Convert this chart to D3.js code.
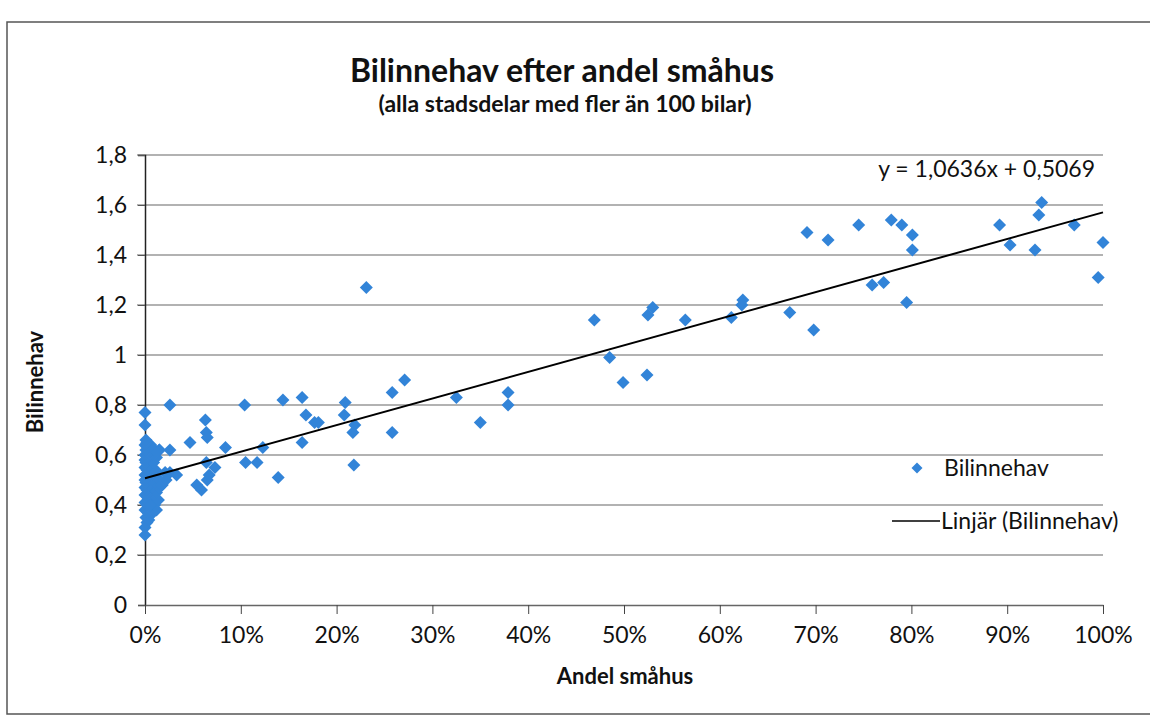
<!DOCTYPE html>
<html><head><meta charset="utf-8">
<script src="https://cdn.jsdelivr.net/npm/d3@7"></script>
<style>body{margin:0;background:#fff}svg{display:block}text{font-family:Lato,"Open Sans",sans-serif;fill:#111}</style>
</head><body><svg id="c" width="1150" height="720"></svg>
<script>
// Andel småhus (%) and Bilinnehav
const xPct = [0,0,0.2,0.1,0.4,0.6,0.3,0,0.8,1.2,0.5,0.2,1.0,0,0.7,1.4,0.3,0.9,0,0.5,1.2,0.2,0.8,0,1.5,0.4,0.1,1.0,0.6,0,0.3,1.3,0.8,0,0.5,0.2,1.1,0,0.7,0.4,0.1,0.9,0,0.6,0.3,1.2,0,0.8,0.5,0.1,1.0,0.3,0,0.6,0.2,0.1,0,0,0.5,1.8,2.2,1.5,
  2.6,1.5,2.6,2.1,2.6,3.3,4.7,5.4,5.9,6.3,6.4,6.5,6.4,6.5,6.7,7.3,8.4,10.4,10.5,11.7,12.3,13.9,14.4,16.4,16.8,17.7,18.1,16.4,20.9,20.8,21.9,21.7,21.8,23.1,25.8,27.1,25.8,32.5,35.0,37.9,37.9,
  46.9,48.5,49.9,52.4,52.5,53.0,56.4,61.2,62.3,62.4,67.3,69.1,71.3,74.5,77.9,79.0,80.1,80.1,75.9,77.1,79.5,69.8,89.2,90.3,92.9,93.3,93.6,97.0,99.5,100];
const bilinnehav = [0.28,0.31,0.33,0.35,0.34,0.36,0.37,0.38,0.38,0.38,0.39,0.40,0.40,0.41,0.42,0.42,0.43,0.44,0.44,0.45,0.45,0.46,0.47,0.47,0.47,0.48,0.49,0.49,0.50,0.50,0.51,0.51,0.52,0.52,0.53,0.54,0.54,0.55,0.55,0.56,0.57,0.57,0.58,0.58,0.59,0.59,0.60,0.60,0.61,0.62,0.62,0.63,0.64,0.64,0.65,0.66,0.72,0.77,0.40,0.48,0.50,0.62,
  0.80,0.62,0.53,0.53,0.62,0.52,0.65,0.48,0.46,0.74,0.69,0.67,0.57,0.50,0.52,0.55,0.63,0.80,0.57,0.57,0.63,0.51,0.82,0.83,0.76,0.73,0.73,0.65,0.81,0.76,0.72,0.69,0.56,1.27,0.85,0.90,0.69,0.83,0.73,0.85,0.80,
  1.14,0.99,0.89,0.92,1.16,1.19,1.14,1.15,1.20,1.22,1.17,1.49,1.46,1.52,1.54,1.52,1.48,1.42,1.28,1.29,1.21,1.10,1.52,1.44,1.42,1.56,1.61,1.52,1.31,1.45];
const trend = {slope: 1.0636, intercept: 0.5069};
const yTicks = [0,0.2,0.4,0.6,0.8,1.0,1.2,1.4,1.6,1.8];
const xTicks = [0,0.1,0.2,0.3,0.4,0.5,0.6,0.7,0.8,0.9,1.0];
const title = "Bilinnehav efter andel småhus";
const subtitle = "(alla stadsdelar med fler än 100 bilar)";
const xTitle = "Andel småhus", yTitle = "Bilinnehav";
const eqLabel = "y = 1,0636x + 0,5069";
const legendItems = ["Bilinnehav", "Linjär (Bilinnehav)"];

const svg = d3.select("#c");
const fmtY = d => d3.format(".1f")(d).replace(".", ",").replace(/,0$/, "");
const x = d3.scaleLinear().domain([0,1]).range([145,1103]);
const y = d3.scaleLinear().domain([0,1.8]).range([605,155]);
const diamondPath = r => `M0,${-r}L${r},0L0,${r}L${-r},0Z`;

svg.append("rect").attr("x",7).attr("y",22).attr("width",1150).attr("height",692)
  .attr("fill","none").attr("stroke","#555").attr("stroke-width",1.5);

svg.append("text").attr("x",562).attr("y",82).attr("text-anchor","middle")
  .attr("font-size",32).attr("font-weight","bold").text(title);
svg.append("text").attr("x",565).attr("y",112).attr("text-anchor","middle")
  .attr("font-size",23).attr("font-weight","bold").text(subtitle);

// gridlines
svg.append("g").selectAll("line").data(yTicks.filter(d=>d>0)).join("line")
  .attr("x1",137).attr("x2",1103).attr("y1",d=>y(d)).attr("y2",d=>y(d))
  .attr("stroke","#666").attr("stroke-width",1.2);

// y axis
const ya = svg.append("g").attr("transform","translate(145,0)")
  .call(d3.axisLeft(y).tickValues(yTicks).tickFormat(fmtY).tickSize(7).tickPadding(11));
ya.select(".domain").attr("stroke","#222").attr("stroke-width",1.5);
ya.selectAll(".tick line").attr("stroke","#555");
ya.selectAll("text").attr("font-size",23).attr("fill","#111").attr("font-family","Lato, sans-serif");

// x axis
const xa = svg.append("g").attr("transform","translate(0,605)")
  .call(d3.axisBottom(x).tickValues(xTicks).tickFormat(d3.format(".0%")).tickSize(9).tickPadding(13).tickSizeOuter(0));
xa.select(".domain").attr("stroke","#666").attr("stroke-width",1.5);
xa.selectAll(".tick line").attr("stroke","#444");
xa.selectAll("text").attr("font-size",23).attr("fill","#111").attr("font-family","Lato, sans-serif");

// axis titles
svg.append("text").attr("x",625).attr("y",684).attr("text-anchor","middle")
  .attr("font-size",22).attr("font-weight","bold").text(xTitle);
svg.append("text").attr("transform","translate(43,382) rotate(-90)").attr("text-anchor","middle")
  .attr("font-size",22).attr("font-weight","bold").text(yTitle);

// points
const pts = xPct.map((v,i)=>({x:v/100, y:bilinnehav[i]}));
svg.append("defs").append("filter").attr("id","glow").attr("x","-50%").attr("y","-50%").attr("width","200%").attr("height","200%")
  .append("feGaussianBlur").attr("stdDeviation",0.7);
svg.append("g").selectAll("path").data(pts).join("path")
  .attr("d",diamondPath(6.5)).attr("transform",d=>`translate(${x(d.x)},${y(d.y)})`)
  .attr("fill","#3384d8").attr("filter","url(#glow)");

// trendline
svg.append("line").attr("x1",x(0)).attr("y1",y(trend.intercept))
  .attr("x2",x(1)).attr("y2",y(trend.intercept+trend.slope))
  .attr("stroke","#000").attr("stroke-width",2);

svg.append("text").attr("x",1095).attr("y",177).attr("text-anchor","end")
  .attr("font-size",23).text(eqLabel);

// legend
svg.append("path").attr("d",diamondPath(5.5))
  .attr("transform","translate(917,468)").attr("fill","#3384d8");
svg.append("text").attr("x",944).attr("y",476).attr("font-size",23).text(legendItems[0]);
svg.append("line").attr("x1",892).attr("x2",940).attr("y1",521).attr("y2",521).attr("stroke","#000").attr("stroke-width",1.5);
svg.append("text").attr("x",941).attr("y",529).attr("font-size",23).text(legendItems[1]);
</script></body></html>
